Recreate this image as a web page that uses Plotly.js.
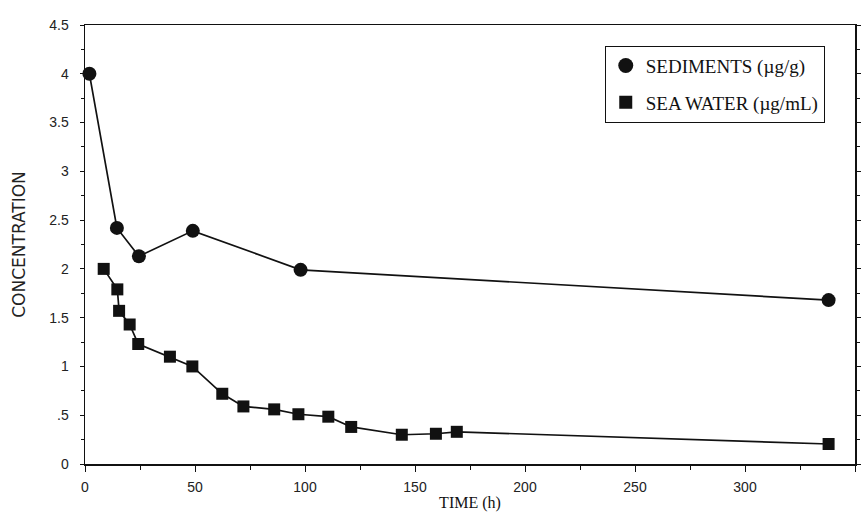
<!DOCTYPE html>
<html>
<head>
<meta charset="utf-8">
<script src="https://cdn.plot.ly/plotly-3.0.1.min.js"></script>
<style>html,body{margin:0;padding:0;background:#fff;}#chart{width:865px;height:514px;}</style>
</head>
<body>
<div id="chart"></div>
<script>
const sedimentTime = [2, 14.5, 24.5, 49, 98, 338];
const sedimentConc = [4.0, 2.42, 2.13, 2.39, 1.99, 1.68];
const waterTime = [8.5, 14.7, 15.5, 20.3, 24.2, 38.6, 48.8, 62.4, 72, 86, 97, 110.6, 121, 144, 159.5, 169, 338];
const waterConc = [2.0, 1.79, 1.57, 1.43, 1.23, 1.10, 1.0, 0.72, 0.59, 0.56, 0.51, 0.485, 0.38, 0.30, 0.31, 0.33, 0.205];
const yTickVals = [0, 0.5, 1, 1.5, 2, 2.5, 3, 3.5, 4, 4.5];
const yTickText = ["0", ".5", "1", "1.5", "2", "2.5", "3", "3.5", "4", "4.5"];
const xTickVals = [0, 50, 100, 150, 200, 250, 300, 350];
const xMinorVals = [25, 75, 125, 175, 225, 275, 325];
const seriesNames = ["SEDIMENTS (µg/g)", "SEA WATER (µg/mL)"];

const traces = [
  {x: sedimentTime, y: sedimentConc, mode: 'lines+markers', showlegend: false,
   line: {color: '#111', width: 1.7}, marker: {symbol: 'circle', size: 14, color: '#111'}, cliponaxis: false},
  {x: waterTime, y: waterConc, mode: 'lines+markers', showlegend: false,
   line: {color: '#111', width: 1.7}, marker: {symbol: 'square', size: 12, color: '#111'}, cliponaxis: false},
  {x: [null], y: [null], mode: 'markers', name: seriesNames[0], legendgroup: 'a',
   marker: {symbol: 'circle', size: 15, color: '#111'}},
  {x: [null], y: [null], mode: 'markers', name: seriesNames[1], legendgroup: 'b',
   marker: {symbol: 'square', size: 13, color: '#111'}}
];

const tickFont = {family: 'Liberation Sans, Arial, sans-serif', size: 14, color: '#222'};
const layout = {
  width: 865, height: 514,
  margin: {l: 85, r: 10, t: 25, b: 50},
  paper_bgcolor: '#fff', plot_bgcolor: '#fff',
  font: {family: 'Liberation Serif, serif', color: '#111'},
  xaxis: {
    range: [0, 350], tickvals: xTickVals, ticks: 'outside', ticklen: 6, tickwidth: 1,
    tickcolor: '#111', showline: true, linecolor: '#111', linewidth: 1.5, mirror: true,
    showgrid: false, zeroline: false, tickfont: tickFont, ticklabelstandoff: 4,
    minor: {tickvals: xMinorVals, ticks: 'outside', ticklen: 4, tickcolor: '#111'},
    title: {text: 'TIME (h)', font: {family: 'Liberation Serif, serif', size: 16, color: '#111'}, standoff: 2}
  },
  yaxis: {
    range: [0, 4.5], tickvals: yTickVals, ticktext: yTickText, ticks: 'outside', ticklen: 4,
    tickcolor: '#111', showline: true, linecolor: '#111', linewidth: 1.5, mirror: 'ticks',
    showgrid: false, zeroline: false, tickfont: tickFont, ticklabelstandoff: 8,
    minor: {dtick: 0.25, ticks: 'outside', ticklen: 3, tickcolor: '#111'},
    title: {text: 'CONCENTRATION', font: {family: 'DejaVu Sans, sans-serif', size: 17, color: '#222'}, standoff: 19}
  },
  legend: {
    x: 0.675, y: 0.953, xanchor: 'left', yanchor: 'top',
    bgcolor: '#fff', bordercolor: '#111', borderwidth: 1,
    font: {family: 'Liberation Serif, serif', size: 19, color: '#111'},
    tracegroupgap: 9, entrywidth: 195
  }
};
Plotly.newPlot('chart', traces, layout, {displayModeBar: false, staticPlot: true});
</script>
</body>
</html>
